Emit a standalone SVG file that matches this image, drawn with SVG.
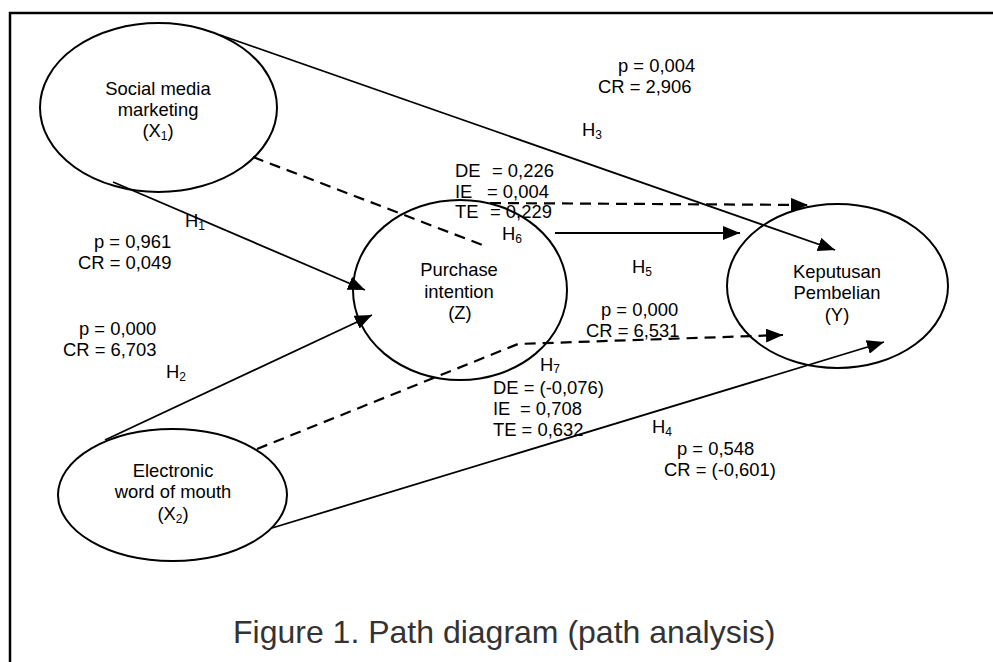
<svg xmlns="http://www.w3.org/2000/svg" width="993" height="662" viewBox="0 0 993 662">
<style>
text{font-family:"Liberation Sans",Arial,sans-serif;font-size:18.4px;fill:#000}
.c{text-anchor:middle}
.sub{font-size:12px}
.node{fill:#fff;stroke:#000;stroke-width:2}
.ln{fill:none;stroke:#000;stroke-width:1.8}
.dash{fill:none;stroke:#000;stroke-width:2.2;stroke-dasharray:11 7}
.title{font-size:32px;fill:#333}
</style>
<defs>
<marker id="ah" markerUnits="userSpaceOnUse" markerWidth="18" markerHeight="14" refX="17" refY="7" orient="auto">
<path d="M0,0 L17,7 L0,14 z" fill="#000"/>
</marker>
</defs>
<rect width="993" height="662" fill="#fff"/>
<path d="M10,662 L10,13 L993,13" fill="none" stroke="#000" stroke-width="2.5"/>

<g id="nodes">
<g id="x1">
<ellipse class="node" cx="158.5" cy="107.5" rx="118.5" ry="84.5"/>
<text class="c" x="158" y="95">Social media</text>
<text class="c" x="158" y="116">marketing</text>
<text class="c" x="158" y="137">(X<tspan class="sub" dy="3">1</tspan><tspan dy="-3">)</tspan></text>
</g>
<g id="z">
<ellipse class="node" cx="460" cy="290" rx="107" ry="90"/>
<text class="c" x="459" y="276">Purchase</text>
<text class="c" x="459" y="298">intention</text>
<text class="c" x="460" y="319">(Z)</text>
</g>
<g id="y">
<ellipse class="node" cx="837.5" cy="286" rx="110.5" ry="82"/>
<text class="c" x="837" y="278">Keputusan</text>
<text class="c" x="837" y="299">Pembelian</text>
<text class="c" x="837" y="321">(Y)</text>
</g>
<g id="x2">
<ellipse class="node" cx="172.5" cy="495" rx="114.5" ry="66"/>
<text class="c" x="173" y="477">Electronic</text>
<text class="c" x="173" y="498">word of mouth</text>
<text class="c" x="173" y="520">(X<tspan class="sub" dy="3">2</tspan><tspan dy="-3">)</tspan></text>
</g>
</g>

<g id="connectors">
<line class="ln" x1="220" y1="35" x2="835" y2="250" marker-end="url(#ah)"/>
<line class="ln" x1="113" y1="182" x2="365" y2="290" marker-end="url(#ah)"/>
<line class="ln" x1="105" y1="440" x2="372" y2="315" marker-end="url(#ah)"/>
<line class="ln" x1="272" y1="528" x2="884" y2="342" marker-end="url(#ah)"/>
<line class="ln" x1="555" y1="233" x2="740" y2="233" marker-end="url(#ah)"/>
<line class="dash" x1="253" y1="157" x2="485" y2="246"/>
<line class="dash" x1="490" y1="203" x2="808" y2="205" marker-end="url(#ah)"/>
<polyline class="dash" points="257,449 518,344 783,335" marker-end="url(#ah)"/>
</g>

<g id="labels">
<text x="618" y="72">p = 0,004</text>
<text x="598" y="93">CR = 2,906</text>
<text x="582" y="136">H<tspan class="sub" dy="3">3</tspan></text>

<text x="185" y="227">H<tspan class="sub" dy="3">1</tspan></text>
<text x="94" y="248">p = 0,961</text>
<text x="78" y="269">CR = 0,049</text>

<text x="79" y="335">p = 0,000</text>
<text x="63" y="356">CR = 6,703</text>
<text x="166" y="378">H<tspan class="sub" dy="3">2</tspan></text>

<text x="455" y="177">DE</text><text x="492" y="177">= 0,226</text>
<text x="455" y="198">IE</text><text x="487" y="198">= 0,004</text>
<text x="455" y="218">TE</text><text x="490" y="218">= 0,229</text>
<text x="502" y="240">H<tspan class="sub" dy="3">6</tspan></text>

<text x="632" y="273">H<tspan class="sub" dy="3">5</tspan></text>

<text x="601" y="316">p = 0,000</text>
<text x="586" y="337">CR = 6,531</text>

<text x="540" y="371">H<tspan class="sub" dy="2">7</tspan></text>
<text x="493" y="394">DE = (-0,076)</text>
<text x="493" y="415">IE</text><text x="520" y="415">= 0,708</text>
<text x="493" y="436">TE = 0,632</text>

<text x="652" y="433">H<tspan class="sub" dy="3">4</tspan></text>
<text x="677" y="455">p = 0,548</text>
<text x="664" y="476">CR = (-0,601)</text>
</g>

<text class="title" x="233" y="643">Figure 1. Path diagram (path analysis)</text>
</svg>
